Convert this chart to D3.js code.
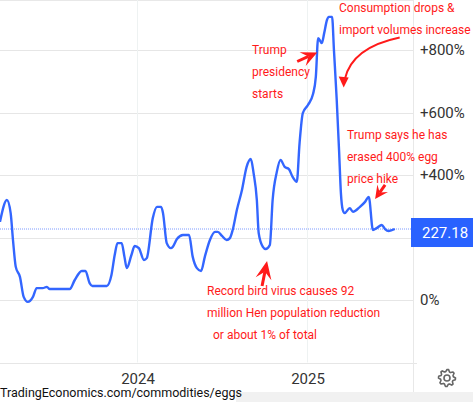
<!DOCTYPE html>
<html>
<head>
<meta charset="utf-8">
<script src="https://cdn.jsdelivr.net/npm/d3@7"></script>
<style>
  html, body { margin: 0; padding: 0; background: #fff; }
  svg { display: block; font-family: Roboto, 'Liberation Sans', Arial, sans-serif; }
</style>
</head>
<body>
<div id="chart"></div>
<script>
// Egg price change (%), weekly-ish readings
const DATES = [
  '2023-03-12', '2023-03-27', '2023-04-04', '2023-04-09', '2023-04-15', '2023-04-24',
  '2023-05-02', '2023-05-11', '2023-05-22', '2023-05-30', '2023-06-12', '2023-06-21',
  '2023-06-27', '2023-08-09', '2023-08-20', '2023-09-04', '2023-09-12', '2023-09-21',
  '2023-09-27', '2023-10-28', '2023-11-07', '2023-11-14', '2023-11-20', '2023-11-29',
  '2023-12-05', '2023-12-10', '2023-12-20', '2023-12-27', '2024-01-05', '2024-01-16',
  '2024-01-22', '2024-02-04', '2024-02-13', '2024-02-22', '2024-02-26', '2024-03-05',
  '2024-03-14', '2024-03-18', '2024-03-27', '2024-04-09', '2024-04-22', '2024-04-30',
  '2024-05-09', '2024-05-18', '2024-05-26', '2024-06-06', '2024-06-17', '2024-06-23',
  '2024-07-02', '2024-07-12', '2024-07-19', '2024-07-25', '2024-08-03', '2024-08-14',
  '2024-08-24', '2024-09-02', '2024-09-08', '2024-09-15', '2024-09-19', '2024-09-28',
  '2024-10-04', '2024-10-13', '2024-10-19', '2024-10-28', '2024-11-05', '2024-11-14',
  '2024-11-23', '2024-12-01', '2024-12-10', '2024-12-16', '2024-12-23', '2025-01-03',
  '2025-01-14', '2025-01-20', '2025-01-25', '2025-02-02', '2025-02-07', '2025-02-13',
  '2025-02-17', '2025-02-24', '2025-02-28', '2025-03-06', '2025-03-11', '2025-03-15',
  '2025-03-19', '2025-03-23', '2025-04-03', '2025-04-10', '2025-04-25', '2025-05-06',
  '2025-05-14', '2025-05-23', '2025-05-31', '2025-06-11', '2025-06-18', '2025-06-26',
  '2025-07-09',
];
const VALUES = [
  250, 320, 278, 192, 106, 74,
  10, -6, 10, 38, 38, 42,
  35, 35, 64, 93, 93, 54,
  45, 45, 80, 144, 182, 182,
  138, 102, 144, 173, 166, 128,
  134, 262, 298, 298, 278, 182,
  166, 170, 195, 208, 208, 138,
  102, 93, 138, 192, 218, 218,
  205, 192, 198, 224, 288, 352,
  426, 451, 406, 320, 214, 170,
  163, 176, 320, 410, 448, 426,
  419, 394, 378, 502, 598, 624,
  659, 714, 838, 822, 854, 896,
  906, 906, 800, 640, 480, 342,
  288, 278, 294, 282, 298, 314,
  330, 224, 230, 240, 227, 221,
  227.18,
];
const LAST_VALUE = 227.18;
const Y_TICKS = [-200, 0, 200, 400, 600, 800];
// +200% sits under the last-value tag, so it is not shown
const Y_LABELS = [0, 400, 600, 800];
const X_TICKS = ['2024-01-01', '2025-01-01'];

const WIDTH = 473;
const HEIGHT = 402;
const PLOT_RIGHT = 413;

const parse = d3.timeParse('%Y-%m-%d');
const data = DATES.map((d, i) => ({ date: parse(d), value: VALUES[i] }));

const svg = d3
  .select('#chart')
  .append('svg')
  .attr('width', WIDTH)
  .attr('height', HEIGHT);

// scales: one year = 170px, 200% = 62.5px
const x = d3
  .scaleTime()
  .domain([parse('2024-01-01'), parse('2025-01-01')])
  .range([137, 307]);
const y = d3.scaleLinear().domain([0, 800]).range([300, 50]);

const pt = (d, v) => [x(parse(d)), y(v)];

// bottom strip
svg.append('rect')
  .attr('x', 236).attr('y', 392)
  .attr('width', WIDTH - 236).attr('height', 10)
  .attr('fill', '#f1f1f1');

// grid
svg.append('line')
  .attr('x1', 0).attr('x2', PLOT_RIGHT)
  .attr('y1', 0.5).attr('y2', 0.5)
  .attr('stroke', '#e8e8e8');

svg.append('g')
  .selectAll('line')
  .data(Y_TICKS)
  .join('line')
  .attr('x1', 0)
  .attr('x2', (d) => (d === -200 ? PLOT_RIGHT + 4 : PLOT_RIGHT))
  .attr('y1', (d) => Math.round(y(d)) + 0.5)
  .attr('y2', (d) => Math.round(y(d)) + 0.5)
  .attr('stroke', '#e6e6e6')
  .attr('stroke-width', 1.2);

svg.append('g')
  .selectAll('line')
  .data(X_TICKS)
  .join('line')
  .attr('x1', (d) => Math.round(x(parse(d))) + 0.5)
  .attr('x2', (d) => Math.round(x(parse(d))) + 0.5)
  .attr('y1', 0)
  .attr('y2', y(-200))
  .attr('stroke', '#eef2f2');

svg.append('line')
  .attr('x1', PLOT_RIGHT + 0.5).attr('x2', PLOT_RIGHT + 0.5)
  .attr('y1', 0).attr('y2', 392)
  .attr('stroke', '#e8e8e8');

// x labels
svg.append('g')
  .selectAll('text')
  .data(X_TICKS)
  .join('text')
  .attr('x', (d) => x(parse(d)) + 1)
  .attr('y', 384)
  .attr('text-anchor', 'middle')
  .attr('font-size', '15px')
  .attr('fill', '#333')
  .text((d) => d.slice(0, 4));

// y labels
svg.append('g')
  .selectAll('text')
  .data(Y_LABELS)
  .join('text')
  .attr('x', 420)
  .attr('y', (d) => y(d) + 5)
  .attr('font-size', '15px')
  .attr('fill', '#333')
  .text((d) => (d > 0 ? `+${d}%` : `${d}%`));

// last value reference line
svg.append('line')
  .attr('x1', 0).attr('x2', PLOT_RIGHT)
  .attr('y1', y(LAST_VALUE)).attr('y2', y(LAST_VALUE))
  .attr('stroke', '#5b82ff')
  .attr('stroke-width', 0.8)
  .attr('stroke-dasharray', '1,1');

// series line
svg.append('clipPath').attr('id', 'clip')
  .append('rect')
  .attr('x', 0).attr('y', 0)
  .attr('width', PLOT_RIGHT).attr('height', y(-200));

const line = d3
  .line()
  .x((d) => x(d.date))
  .y((d) => y(d.value))
  .curve(d3.curveMonotoneX);

svg.append('path')
  .datum(data)
  .attr('clip-path', 'url(#clip)')
  .attr('d', line)
  .attr('fill', 'none')
  .attr('stroke', '#3366ff')
  .attr('stroke-width', 2.4)
  .attr('stroke-linejoin', 'round');

// last value tag
svg.append('rect')
  .attr('x', 411).attr('y', y(LAST_VALUE) - 11)
  .attr('width', WIDTH - 411).attr('height', 29)
  .attr('fill', '#2962ff');
svg.append('text')
  .attr('x', 422).attr('y', y(LAST_VALUE) + 9)
  .attr('font-size', '15px')
  .attr('fill', '#fff')
  .text(LAST_VALUE.toFixed(2));

// annotations
const RED = '#ff1a1a';

const notes = [
  { x: 339, y: 12, lines: ['Consumption drops &', 'import volumes increase'] },
  { x: 252, y: 54, lines: ['Trump', 'presidency', 'starts'] },
  { x: 347, y: 139, lines: ['Trump says he has', 'erased 400% egg', 'price hike'] },
  { x: 207, y: 295, lines: ['Record bird virus causes 92', 'million Hen population reduction'] },
  { x: 213, y: 339, lines: ['or about 1% of total'] },
];

notes.forEach((n) => {
  const t = svg.append('text')
    .attr('font-size', '12px')
    .attr('fill', RED);
  n.lines.forEach((l, i) => {
    t.append('tspan').attr('x', n.x).attr('y', n.y + i * 22).text(l);
  });
});

// notched arrowhead from `from` towards `tip`
function arrow(tip, from, len = 13, half = 6.5, width = 2.5) {
  const dx = tip[0] - from[0];
  const dy = tip[1] - from[1];
  const d = Math.hypot(dx, dy);
  const ux = dx / d;
  const uy = dy / d;
  const px = -uy;
  const py = ux;
  const bx = tip[0] - ux * len;
  const by = tip[1] - uy * len;
  const nx = tip[0] - ux * len * 0.6;
  const ny = tip[1] - uy * len * 0.6;
  svg.append('line')
    .attr('x1', from[0]).attr('y1', from[1])
    .attr('x2', nx).attr('y2', ny)
    .attr('stroke', RED).attr('stroke-width', width);
  svg.append('path')
    .attr('d', `M${tip}L${bx + px * half},${by + py * half}L${nx},${ny}L${bx - px * half},${by - py * half}Z`)
    .attr('fill', RED);
}

// Trump presidency start
const tTrump = pt('2025-01-23', 792);
arrow(tTrump, [tTrump[0] - 20, tTrump[1] + 9], 16, 7.5, 3);

// bird virus low
const tVirus = pt('2024-10-07', 147);
tVirus[1] += 7;
arrow(tVirus, [tVirus[0] - 5, tVirus[1] + 25], 18, 8, 3);

// price hike peak
const tHike = pt('2025-05-19', 330);
tHike[0] += 4;
tHike[1] += 2;
arrow(tHike, [tHike[0] + 10, tHike[1] - 14], 13, 6.5, 3);

// curved arrow towards the drop
const tDrop = pt('2025-03-21', 680);
svg.append('path')
  .attr('d', `M${tDrop[0] + 56},${tDrop[1] - 50}Q${tDrop[0] + 8},${tDrop[1] - 40} ${tDrop[0] + 1},${tDrop[1] - 8}`)
  .attr('fill', 'none')
  .attr('stroke', RED)
  .attr('stroke-width', 2);
svg.append('path')
  .attr('d', `M${tDrop}L${tDrop[0] - 5},${tDrop[1] - 11}L${tDrop[0] + 5},${tDrop[1] - 10}Z`)
  .attr('fill', RED);

// source
svg.append('text')
  .attr('x', 0).attr('y', 397)
  .attr('font-size', '12.5px')
  .attr('fill', '#111')
  .text('TradingEconomics.com/commodities/eggs');

// gear icon
const gear = svg.append('g').attr('transform', 'translate(447,378)');
const teeth = 8;
const gearPts = [];
for (let i = 0; i < teeth * 4; i++) {
  const a = (i / (teeth * 4)) * Math.PI * 2;
  const r = i % 4 < 2 ? 8.5 : 6.5;
  gearPts.push([Math.cos(a) * r, Math.sin(a) * r]);
}
gear.append('path')
  .attr('d', d3.line()(gearPts) + 'Z')
  .attr('fill', 'none')
  .attr('stroke', '#666')
  .attr('stroke-width', 1.6)
  .attr('stroke-linejoin', 'round');
gear.append('circle')
  .attr('r', 3)
  .attr('fill', 'none')
  .attr('stroke', '#666')
  .attr('stroke-width', 1.6);
</script>
</body>
</html>
